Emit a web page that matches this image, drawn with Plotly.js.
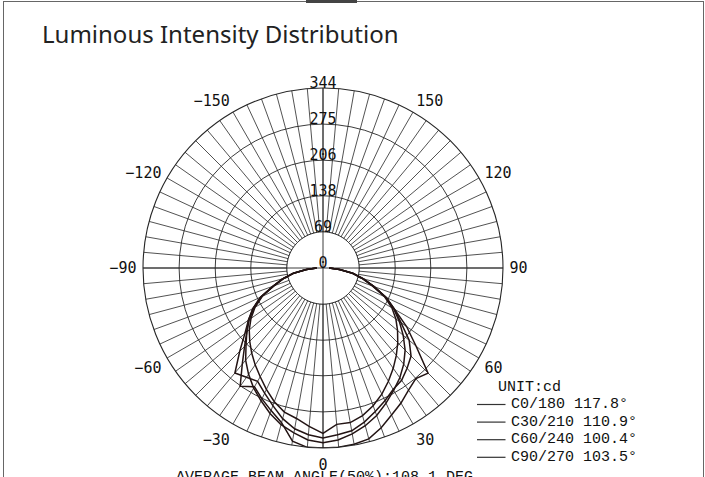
<!DOCTYPE html>
<html>
<head>
<meta charset="utf-8">
<script src="https://cdn.plot.ly/plotly-3.0.1.min.js"></script>
<style>
  html, body { margin: 0; padding: 0; background: #fff; }
  #wrap { position: relative; width: 705px; height: 477px; overflow: hidden; }
  #chart { width: 705px; height: 477px; }
  #frame { position: absolute; left: 3px; top: 1px; width: 699px; height: 490px;
           border-left: 1.5px solid #666; border-top: 1.5px solid #666; border-right: 1.5px solid #666;
           pointer-events: none; }
  #tab { position: absolute; left: 306px; top: 0; width: 51px; height: 2.5px; background: #444; pointer-events: none; }
</style>
</head>
<body>
<div id="wrap">
  <div id="chart"></div>
  <div id="frame"></div>
  <div id="tab"></div>
</div>
<script>
// ---------- data ----------
const angles = [-90,-85,-80,-75,-70,-65,-60,-55,-50,-45,-40,-35,-30,-25,-20,-15,-10,-5,0,
                5,10,15,20,25,30,35,40,45,50,55,60,65,70,75,80,85,90];

const c0_180  = [12,32,58,80,102,132,155,174,190,212,240,276,262,276,290,306,336,344,344,
                 344,342,338,325,310,298,285,276,284,232,195,158,134,104,80,58,32,12];
const c30_210 = [12,32,57,79,101,130,153,172,190,208,230,248,265,280,296,310,320,330,334,
                 330,322,312,300,285,270,256,240,222,200,178,156,132,103,79,57,32,12];
const c60_240 = [12,31,56,78,100,128,150,168,184,198,212,226,240,256,272,285,292,304,316,
                 300,300,292,280,266,250,234,218,202,186,170,152,130,101,78,56,31,12];
const c90_270 = [12,32,57,80,101,131,154,174,195,225,262,255,250,264,280,298,312,320,325,
                 320,316,305,292,280,268,262,250,238,215,182,158,133,103,80,58,32,12];

const seriesNames = ['C0/180 117.8°', 'C30/210 110.9°', 'C60/240 100.4°', 'C90/270 103.5°'];
const seriesValues = [c0_180, c30_210, c60_240, c90_270];

const radialTicks = [0, 69, 138, 206, 275, 344];
const angleTickVals = [0, 30, 60, 90, 120, 150, 180, 210, 240, 270, 300, 330];
const angleTickLabels = ['0', '30', '60', '90', '120', '150', '', '\u2212150', '\u2212120', '\u221290', '\u221260', '\u221230'];

const titleText = 'Luminous Intensity Distribution';
const unitText = 'UNIT:cd';
const beamText = 'AVERAGE BEAM ANGLE(50%):108.1 DEG';

// ---------- build ----------
const gridColor = '#262626';
const curveColor = '#231414';
const monoTick = 'DejaVu Sans Mono, monospace';
const monoText = 'Liberation Mono, Courier New, monospace';

const gridVals = [], gridText = [];
for (let a = 0; a < 360; a += 5) {
  gridVals.push(a);
  const k = angleTickVals.indexOf(a);
  gridText.push(k >= 0 ? angleTickLabels[k] : '');
}

const traces = [];

// inner blank disc (spokes start at the first ring)
const holeTheta = [], holeR = [];
for (let a = 0; a <= 360; a += 3) { holeTheta.push(a); holeR.push(radialTicks[1]); }
traces.push({
  type: 'scatterpolar', mode: 'lines', r: holeR, theta: holeTheta,
  fill: 'toself', fillcolor: '#ffffff', line: {color: gridColor, width: 0.9},
  hoverinfo: 'skip', showlegend: false
});
traces.push({
  type: 'scatterpolar', mode: 'lines',
  r: [radialTicks[5], 0, radialTicks[5]], theta: [180, 0, 0],
  line: {color: gridColor, width: 0.9}, hoverinfo: 'skip', showlegend: false
});
traces.push({
  type: 'scatterpolar', mode: 'lines',
  r: [radialTicks[5], 0, radialTicks[5]], theta: [90, 0, -90],
  line: {color: gridColor, width: 0.9}, hoverinfo: 'skip', showlegend: false
});

seriesValues.forEach((vals, i) => {
  traces.push({
    type: 'scatterpolar', mode: 'lines', name: seriesNames[i],
    r: vals, theta: angles, showlegend: false,
    line: {color: curveColor, width: 1.5}
  });
});

// radial tick labels on an overlaid, slightly lowered polar frame (same scale)
traces.push({
  type: 'scatterpolar', mode: 'text', subplot: 'polar2',
  r: radialTicks, theta: radialTicks.map(() => 180),
  text: radialTicks.map(String), textposition: 'top center',
  textfont: {family: monoTick, size: 15, color: '#111'},
  cliponaxis: false, hoverinfo: 'skip', showlegend: false
});

const W = 705, H = 477;
const cx = 323, cy = 268, R = 180;
const px = x => x / W;
const py = y => 1 - y / H;
const labelDrop = 4;

// manual legend (rows ~17.5px apart)
const legendTop = 404.5, legendStep = 17.6;
const shapes = [], annotations = [];
seriesNames.forEach((name, i) => {
  const y = legendTop + i * legendStep;
  shapes.push({type: 'line', xref: 'paper', yref: 'paper',
    x0: px(477), x1: px(505.5), y0: py(y), y1: py(y),
    line: {color: '#333', width: 1.2}});
  annotations.push({text: name, xref: 'paper', yref: 'paper', x: px(509), y: py(y),
    xanchor: 'left', yanchor: 'middle', showarrow: false,
    font: {family: monoText, size: 15, color: '#111'}});
});
annotations.push({text: unitText, xref: 'paper', yref: 'paper', x: px(496), y: py(387),
  xanchor: 'left', yanchor: 'middle', showarrow: false,
  font: {family: monoText, size: 15, color: '#111'}});
annotations.push({text: beamText, xref: 'paper', yref: 'paper', x: px(324), y: py(477),
  xanchor: 'center', yanchor: 'middle', showarrow: false,
  font: {family: monoText, size: 15, color: '#111'}});

const polarDomain = {x: [(cx - R) / W, (cx + R) / W], y: [(H - cy - R) / H, (H - cy + R) / H]};

const layout = {
  width: W, height: H,
  margin: {l: 0, r: 0, t: 0, b: 0, autoexpand: false},
  paper_bgcolor: '#ffffff',
  showlegend: false,
  title: {
    text: titleText, xref: 'container', yref: 'container',
    x: 42 / W, xanchor: 'left', y: 1 - 35 / H, yanchor: 'middle',
    font: {family: 'Noto Sans, sans-serif', size: 24, color: '#222'}
  },
  polar: {
    domain: polarDomain,
    bgcolor: '#ffffff',
    radialaxis: {
      range: [0, radialTicks[5]], tickmode: 'array', tickvals: radialTicks,
      showticklabels: false, ticks: '', showline: false,
      gridcolor: gridColor, gridwidth: 0.9, angle: 90
    },
    angularaxis: {
      rotation: -90, direction: 'counterclockwise', thetaunit: 'degrees',
      tickmode: 'array', tickvals: gridVals, ticktext: gridText,
      ticks: 'outside', ticklen: 3, tickcolor: 'rgba(0,0,0,0)',
      showline: true, linecolor: gridColor, linewidth: 1.1,
      gridcolor: gridColor, gridwidth: 0.8,
      tickfont: {family: monoTick, size: 15, color: '#111'}
    }
  },
  polar2: {
    domain: {x: polarDomain.x, y: [polarDomain.y[0] - labelDrop / H, polarDomain.y[1] - labelDrop / H]},
    bgcolor: 'rgba(0,0,0,0)',
    radialaxis: {range: [0, radialTicks[5]], visible: false},
    angularaxis: {rotation: -90, direction: 'counterclockwise', visible: false}
  },
  shapes: shapes,
  annotations: annotations
};

Plotly.newPlot('chart', traces, layout, {displayModeBar: false, staticPlot: true});
</script>
</body>
</html>
